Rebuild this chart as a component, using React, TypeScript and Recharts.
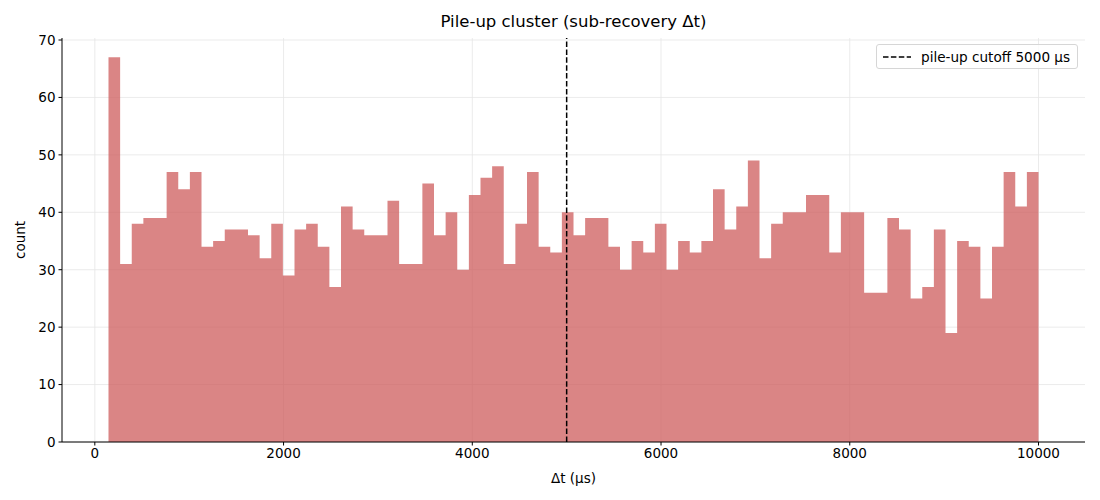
import React from "react";
import {
  ComposedChart,
  Area,
  XAxis,
  YAxis,
  CartesianGrid,
  ReferenceLine,
} from "recharts";

// histogram of Δt between consecutive hits, 80 bins
const BIN_START = 145;
const BIN_END = 10000;
const COUNTS = [
  67, 31, 38, 39, 39, 47, 44, 47, 34, 35,
  37, 37, 36, 32, 38, 29, 37, 38, 34, 27,
  41, 37, 36, 36, 42, 31, 31, 45, 36, 40,
  30, 43, 46, 48, 31, 38, 47, 34, 33, 40,
  36, 39, 39, 34, 30, 35, 33, 38, 30, 35,
  33, 35, 44, 37, 41, 49, 32, 38, 40, 40,
  43, 43, 33, 40, 40, 26, 26, 39, 37, 25,
  27, 37, 19, 35, 34, 25, 34, 47, 41, 47,
];
const X_TICKS = [0, 2000, 4000, 6000, 8000, 10000];
const Y_TICKS = [0, 10, 20, 30, 40, 50, 60, 70];
const CUTOFF = 5000;

const binWidth = (BIN_END - BIN_START) / COUNTS.length;
const data = COUNTS.map((c, i) => ({ x: BIN_START + i * binWidth, count: c }));
data.push({ x: BIN_END, count: COUNTS[COUNTS.length - 1] });

const FONT = "'DejaVu Sans', sans-serif";
const tickStyle = { fontSize: 13.5, fontFamily: FONT, fill: "#000" };

export default function App() {
  return (
    <div style={{ position: "relative", width: 1100, height: 500, fontFamily: FONT }}>
      <style>{"body{margin:0}"}</style>
      <div
        style={{
          position: "absolute",
          left: 62,
          width: 1023,
          top: 12,
          textAlign: "center",
          fontSize: 16.5,
          color: "#000",
        }}
      >
        Pile-up cluster (sub-recovery Δt)
      </div>
      <ComposedChart
        width={1100}
        height={500}
        data={data}
        margin={{ top: 38, right: 15, bottom: 0, left: 0 }}
      >
        <CartesianGrid stroke="#e6e6e6" strokeWidth={0.8} verticalValues={X_TICKS} horizontalValues={Y_TICKS} />
        <XAxis
          dataKey="x"
          type="number"
          domain={[-347.75, 10492.75]}
          ticks={X_TICKS}
          allowDataOverflow
          height={58}
          tick={tickStyle}
          tickSize={3.5}
          tickMargin={3}
          axisLine={{ stroke: "#000", strokeWidth: 1 }}
          tickLine={{ stroke: "#000" }}
          label={{ value: "Δt (µs)", position: "insideBottom", offset: 17, style: { ...tickStyle, textAnchor: "middle" } }}
        />
        <YAxis
          type="number"
          domain={[0, 70.35]}
          ticks={Y_TICKS}
          allowDataOverflow
          width={62}
          tick={tickStyle}
          tickSize={3.5}
          tickMargin={3}
          axisLine={{ stroke: "#000", strokeWidth: 1 }}
          tickLine={{ stroke: "#000" }}
          label={{ value: "count", angle: -90, position: "insideLeft", offset: 20, style: { ...tickStyle, textAnchor: "middle" } }}
        />
        <Area
          type="stepAfter"
          dataKey="count"
          stroke="none"
          fill="#cd5c5c"
          fillOpacity={0.75}
          isAnimationActive={false}
          dot={false}
          activeDot={false}
        />
        <ReferenceLine x={CUTOFF} stroke="#000" strokeWidth={1.5} strokeDasharray="5.5 2.4" />
      </ComposedChart>
      <div
        style={{
          position: "absolute",
          left: 876,
          top: 44,
          width: 202,
          height: 25,
          border: "1px solid #d6d6d6",
          borderRadius: 3,
          background: "rgba(255,255,255,0.8)",
          display: "flex",
          alignItems: "center",
          fontSize: 13.6,
          color: "#000",
          boxSizing: "border-box",
        }}
      >
        <svg width={30} height={10} style={{ marginLeft: 5, marginRight: 9 }}>
          <line x1={1} y1={5} x2={29} y2={5} stroke="#000" strokeWidth={1.5} strokeDasharray="5.5 2.4" />
        </svg>
        <span style={{ whiteSpace: "nowrap" }}>pile-up cutoff 5000 µs</span>
      </div>
    </div>
  );
}
